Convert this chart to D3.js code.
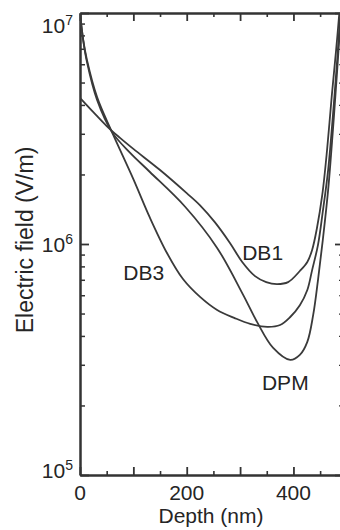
<!DOCTYPE html>
<html>
<head>
<meta charset="utf-8">
<script src="https://cdn.jsdelivr.net/npm/d3@7"></script>
<style>
  html, body { margin: 0; padding: 0; background: #fff; }
  svg { display: block; }
  text { font-family: "Liberation Sans", Arial, sans-serif; fill: #252525; }
</style>
</head>
<body>
<div id="chart"></div>
<script>
// Depth (nm) and electric field (V/m)
const depthDB1 = [0, 25, 50, 75, 100, 150, 200, 225, 253, 281, 304, 328, 349, 369, 390, 412, 426, 435, 444, 454, 463, 472, 480, 486];
const fieldDB1 = [4.29e6, 3.72e6, 3.24e6, 2.88e6, 2.58e6, 2.09e6, 1.66e6, 1.47e6, 1.24e6, 1.01e6, 8.36e5, 7.26e5, 6.84e5, 6.71e5, 6.84e5, 7.64e5, 8.36e5, 9.42e5, 1.17e6, 1.63e6, 2.55e6, 4.42e6, 6.92e6, 1.0e7];

const depthDB3 = [0, 6, 13, 32, 60, 100, 131, 163, 193, 225, 257, 289, 319, 351, 375, 394, 412, 426, 435, 446, 455, 465, 474, 482, 488];
const fieldDB3 = [1.0e7, 7.64e6, 6.27e6, 4.33e6, 3.05e6, 1.91e6, 1.30e6, 9.14e5, 7.05e5, 5.90e5, 5.18e5, 4.79e5, 4.51e5, 4.38e5, 4.46e5, 4.83e5, 5.43e5, 6.32e5, 7.71e5, 9.91e5, 1.38e6, 2.09e6, 3.61e6, 6.27e6, 1.0e7];

const depthDPM = [0, 6, 13, 32, 60, 94, 131, 197, 257, 306, 332, 362, 394, 412, 426, 437, 446, 455, 465, 474, 482, 489];
const fieldDPM = [1.0e7, 7.64e6, 6.14e6, 4.20e6, 3.05e6, 2.48e6, 2.05e6, 1.45e6, 9.62e5, 6.01e5, 4.59e5, 3.55e5, 3.15e5, 3.31e5, 3.77e5, 4.93e5, 6.98e5, 1.04e6, 1.71e6, 3.12e6, 5.66e6, 1.0e7];

// curve names and where their labels sit (depth, field)
const seriesNames = ["DB1", "DB3", "DPM"];
const labelDepth = [304, 81, 341];
const labelField = [8.5e5, 7.0e5, 2.33e5];

// axis ticks
const xMajorTicks = [0, 100, 200, 300, 400];
const xMinorTicks = [50, 150, 250, 350, 450];
const xTickLabels = [0, 200, 400];
const yDecades = [1e5, 1e6, 1e7];
const yExponents = ["5", "6", "7"];

const W = 340, H = 530;
const plot = { left: 80, right: 342, top: 13, bottom: 475 };

const svg = d3.select("#chart")
    .append("svg")
    .attr("width", W)
    .attr("height", H);

const x = d3.scaleLinear().domain([0, 491]).range([plot.left, plot.right]);
const y = d3.scaleLog().domain([1e5, 1e7]).range([plot.bottom, plot.top]);

const yMinor = [];
yDecades.slice(0, 2).forEach(d => {
    for (let k = 2; k <= 9; k++) yMinor.push(d * k);
});

const ink = "#333";

function styleAxis(g, width) {
    g.select(".domain").attr("stroke", ink).attr("stroke-width", 2);
    g.selectAll(".tick line").attr("stroke", ink).attr("stroke-width", width);
    g.selectAll(".tick text").remove();
}

// bottom
svg.append("g").attr("transform", `translate(0,${plot.bottom})`)
    .call(d3.axisBottom(x).tickValues(xMajorTicks).tickSize(-8).tickSizeOuter(0))
    .call(g => styleAxis(g, 1.8));
svg.append("g").attr("transform", `translate(0,${plot.bottom})`)
    .call(d3.axisBottom(x).tickValues(xMinorTicks).tickSize(-4).tickSizeOuter(0))
    .call(g => styleAxis(g, 1.6));
// top
svg.append("g").attr("transform", `translate(0,${plot.top})`)
    .call(d3.axisTop(x).tickValues(xMajorTicks).tickSize(-8).tickSizeOuter(0))
    .call(g => styleAxis(g, 1.8));
svg.append("g").attr("transform", `translate(0,${plot.top})`)
    .call(d3.axisTop(x).tickValues(xMinorTicks).tickSize(-4).tickSizeOuter(0))
    .call(g => styleAxis(g, 1.6));
// left
svg.append("g").attr("transform", `translate(${plot.left},0)`)
    .call(d3.axisLeft(y).tickValues(yDecades).tickSize(-9).tickSizeOuter(0))
    .call(g => styleAxis(g, 1.8));
svg.append("g").attr("transform", `translate(${plot.left},0)`)
    .call(d3.axisLeft(y).tickValues(yMinor).tickSize(-5).tickSizeOuter(0))
    .call(g => styleAxis(g, 1.5));
// right frame sits just past the edge, only its tick ends show
svg.append("g").attr("transform", `translate(${plot.right + 2},0)`)
    .call(d3.axisRight(y).tickValues(yDecades).tickSize(-9).tickSizeOuter(0))
    .call(g => styleAxis(g, 1.8));
svg.append("g").attr("transform", `translate(${plot.right + 2},0)`)
    .call(d3.axisRight(y).tickValues(yMinor).tickSize(-5).tickSizeOuter(0))
    .call(g => styleAxis(g, 1.2));

// clip for curves
svg.append("clipPath").attr("id", "clip")
    .append("rect")
    .attr("x", plot.left).attr("y", plot.top)
    .attr("width", plot.right - plot.left).attr("height", plot.bottom - plot.top);

const line = d3.line()
    .x(d => x(d[0]))
    .y(d => y(d[1]))
    .curve(d3.curveCatmullRom.alpha(0.5));

const series = [
    d3.zip(depthDB1, fieldDB1),
    d3.zip(depthDB3, fieldDB3),
    d3.zip(depthDPM, fieldDPM)
];

svg.append("g").attr("clip-path", "url(#clip)")
    .selectAll("path")
    .data(series)
    .enter()
    .append("path")
    .attr("d", line)
    .attr("fill", "none")
    .attr("stroke", "#3a3a3a")
    .attr("stroke-width", 1.8);

// curve labels
svg.selectAll(".curve-label")
    .data(seriesNames)
    .enter()
    .append("text")
    .attr("class", "curve-label")
    .attr("x", (d, i) => x(labelDepth[i]))
    .attr("y", (d, i) => y(labelField[i]))
    .style("font-size", "21px")
    .text(d => d);

// x tick labels
svg.selectAll(".x-label")
    .data(xTickLabels)
    .enter()
    .append("text")
    .attr("class", "x-label")
    .attr("x", d => x(d))
    .attr("y", 500)
    .attr("text-anchor", "middle")
    .style("font-size", "21px")
    .text(d => d);

// y tick labels, 10^n
const yLab = svg.selectAll(".y-label")
    .data(yDecades)
    .enter()
    .append("text")
    .attr("class", "y-label")
    .attr("x", 73)
    .attr("y", d => Math.min(Math.max(y(d) + 8, 33), 478))
    .attr("text-anchor", "end")
    .style("font-size", "21px");
yLab.append("tspan").text("10");
yLab.append("tspan")
    .attr("dy", -8)
    .style("font-size", "14px")
    .text((d, i) => yExponents[i]);

// axis titles
svg.append("text")
    .text("Depth (nm)")
    .attr("x", (plot.left + plot.right) / 2)
    .attr("y", 523)
    .attr("text-anchor", "middle")
    .style("font-size", "21px");

svg.append("text")
    .text("Electric field (V/m)")
    .attr("transform", "rotate(-90)")
    .attr("x", -240)
    .attr("y", 33)
    .attr("text-anchor", "middle")
    .style("font-size", "23px");
</script>
</body>
</html>
